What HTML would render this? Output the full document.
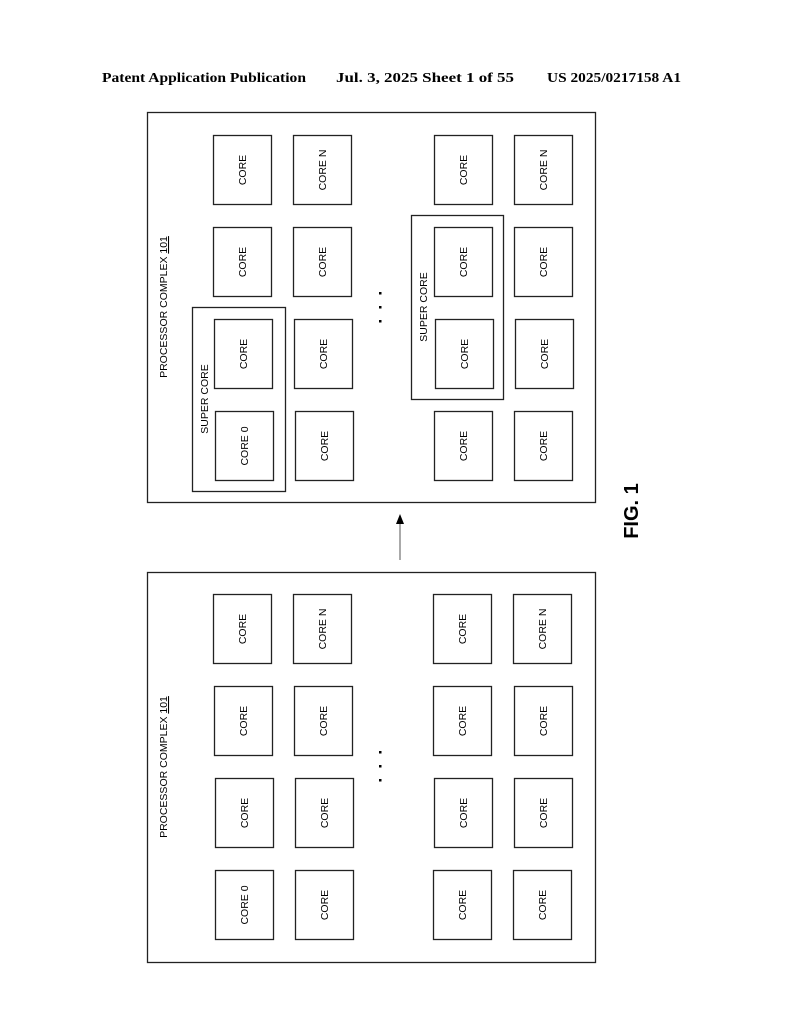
<!DOCTYPE html>
<html><head><meta charset="utf-8"><style>
html,body{margin:0;padding:0;background:#fff}
svg{display:block}
text{font-family:"Liberation Sans",sans-serif}
text.hd{font-family:"Liberation Serif",serif;font-weight:bold}
</style></head><body>
<svg width="794" height="1024" viewBox="0 0 794 1024" xmlns="http://www.w3.org/2000/svg">
<g font-size="14" fill="#000">
<text class="hd" x="102" y="82" textLength="204" lengthAdjust="spacingAndGlyphs">Patent Application Publication</text>
<text class="hd" x="336" y="82" textLength="178" lengthAdjust="spacingAndGlyphs">Jul. 3, 2025   Sheet 1 of 55</text>
<text class="hd" x="547" y="82" textLength="134" lengthAdjust="spacingAndGlyphs">US 2025/0217158 A1</text>
</g>
<g fill="none" stroke="#222" stroke-width="1.3">
<rect x="147.5" y="112.5" width="448" height="390"/>
<rect x="147.5" y="572.5" width="448" height="390"/>
<rect x="192.5" y="307.5" width="93" height="184"/>
<rect x="411.5" y="215.5" width="92" height="184"/>
</g>
<line x1="400" y1="560" x2="400" y2="522" stroke="#555" stroke-width="1"/>
<polygon points="400,514 396,524 404,524" fill="#000"/>
<g fill="#000">
<rect x="379" y="292" width="2.5" height="2.5"/><rect x="379" y="306" width="2.5" height="2.5"/><rect x="379" y="320" width="2.5" height="2.5"/>
<rect x="379" y="751" width="2.5" height="2.5"/><rect x="379" y="765" width="2.5" height="2.5"/><rect x="379" y="779" width="2.5" height="2.5"/>
</g>
<text transform="translate(167,307) rotate(-90)" font-size="10.5" text-anchor="middle">PROCESSOR COMPLEX <tspan text-decoration="underline">101</tspan></text>
<text transform="translate(167,767) rotate(-90)" font-size="10.5" text-anchor="middle">PROCESSOR COMPLEX <tspan text-decoration="underline">101</tspan></text>
<text transform="translate(208,399) rotate(-90)" font-size="10.5" text-anchor="middle">SUPER CORE</text>
<text transform="translate(427,307) rotate(-90)" font-size="10.5" text-anchor="middle">SUPER CORE</text>
<text transform="translate(638,511) rotate(-90)" font-size="20" font-weight="bold" text-anchor="middle">FIG. 1</text>
<g fill="none" stroke="#222" stroke-width="1.3">
<rect x="213.5" y="135.5" width="58" height="69"/><rect x="293.5" y="135.5" width="58" height="69"/><rect x="434.5" y="135.5" width="58" height="69"/><rect x="514.5" y="135.5" width="58" height="69"/>
<rect x="213.5" y="227.5" width="58" height="69"/><rect x="293.5" y="227.5" width="58" height="69"/><rect x="434.5" y="227.5" width="58" height="69"/><rect x="514.5" y="227.5" width="58" height="69"/>
<rect x="214.5" y="319.5" width="58" height="69"/><rect x="294.5" y="319.5" width="58" height="69"/><rect x="435.5" y="319.5" width="58" height="69"/><rect x="515.5" y="319.5" width="58" height="69"/>
<rect x="215.5" y="411.5" width="58" height="69"/><rect x="295.5" y="411.5" width="58" height="69"/><rect x="434.5" y="411.5" width="58" height="69"/><rect x="514.5" y="411.5" width="58" height="69"/>
<rect x="213.5" y="594.5" width="58" height="69"/><rect x="293.5" y="594.5" width="58" height="69"/><rect x="433.5" y="594.5" width="58" height="69"/><rect x="513.5" y="594.5" width="58" height="69"/>
<rect x="214.5" y="686.5" width="58" height="69"/><rect x="294.5" y="686.5" width="58" height="69"/><rect x="433.5" y="686.5" width="58" height="69"/><rect x="514.5" y="686.5" width="58" height="69"/>
<rect x="215.5" y="778.5" width="58" height="69"/><rect x="295.5" y="778.5" width="58" height="69"/><rect x="434.5" y="778.5" width="58" height="69"/><rect x="514.5" y="778.5" width="58" height="69"/>
<rect x="215.5" y="870.5" width="58" height="69"/><rect x="295.5" y="870.5" width="58" height="69"/><rect x="433.5" y="870.5" width="58" height="69"/><rect x="513.5" y="870.5" width="58" height="69"/>
</g>
<g font-size="10.5" text-anchor="middle" fill="#000">
<text transform="translate(246,170) rotate(-90)">CORE</text><text transform="translate(326,170) rotate(-90)">CORE N</text><text transform="translate(467,170) rotate(-90)">CORE</text><text transform="translate(547,170) rotate(-90)">CORE N</text>
<text transform="translate(246,262) rotate(-90)">CORE</text><text transform="translate(326,262) rotate(-90)">CORE</text><text transform="translate(467,262) rotate(-90)">CORE</text><text transform="translate(547,262) rotate(-90)">CORE</text>
<text transform="translate(247,354) rotate(-90)">CORE</text><text transform="translate(327,354) rotate(-90)">CORE</text><text transform="translate(468,354) rotate(-90)">CORE</text><text transform="translate(548,354) rotate(-90)">CORE</text>
<text transform="translate(248,446) rotate(-90)">CORE 0</text><text transform="translate(328,446) rotate(-90)">CORE</text><text transform="translate(467,446) rotate(-90)">CORE</text><text transform="translate(547,446) rotate(-90)">CORE</text>
<text transform="translate(246,629) rotate(-90)">CORE</text><text transform="translate(326,629) rotate(-90)">CORE N</text><text transform="translate(466,629) rotate(-90)">CORE</text><text transform="translate(546,629) rotate(-90)">CORE N</text>
<text transform="translate(247,721) rotate(-90)">CORE</text><text transform="translate(327,721) rotate(-90)">CORE</text><text transform="translate(466,721) rotate(-90)">CORE</text><text transform="translate(547,721) rotate(-90)">CORE</text>
<text transform="translate(248,813) rotate(-90)">CORE</text><text transform="translate(328,813) rotate(-90)">CORE</text><text transform="translate(467,813) rotate(-90)">CORE</text><text transform="translate(547,813) rotate(-90)">CORE</text>
<text transform="translate(248,905) rotate(-90)">CORE 0</text><text transform="translate(328,905) rotate(-90)">CORE</text><text transform="translate(466,905) rotate(-90)">CORE</text><text transform="translate(546,905) rotate(-90)">CORE</text>
</g>
</svg>
</body></html>
